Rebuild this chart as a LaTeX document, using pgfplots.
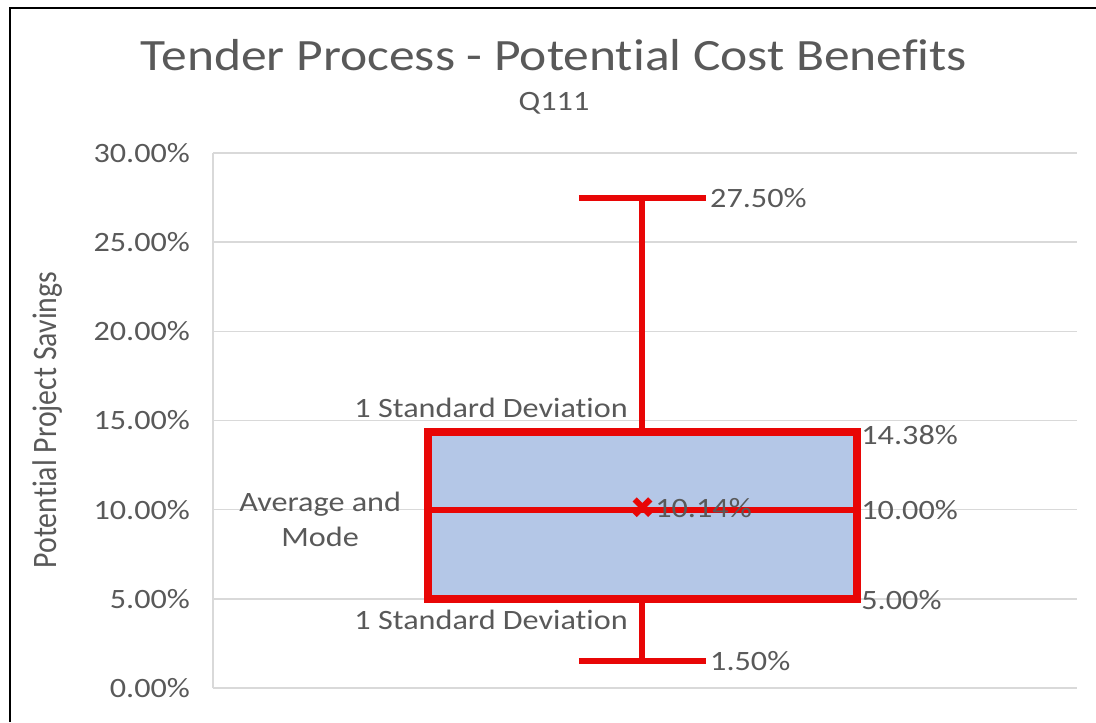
\documentclass[border=0pt]{standalone}
\usepackage{fontspec}
\usepackage{graphicx}
\usepackage{pgfplots}
\pgfplotsset{compat=1.18}
\usepgfplotslibrary{statistics}
\setmainfont{Carlito}[FakeStretch=1.15, RawFeature=-liga]
\newfontfamily\plainfont{Carlito}[RawFeature=-liga]

\definecolor{txtgray}{HTML}{595959}
\definecolor{gridgray}{HTML}{D9D9D9}
\definecolor{boxred}{RGB}{232,6,6}
\definecolor{boxfill}{HTML}{B4C7E7}

\begin{document}
\begin{tikzpicture}[font=\fontsize{14}{17.5}\selectfont, text=txtgray]
\path[use as bounding box] (0,0) rectangle (548pt,361pt);
\draw[black, line width=1pt] (5pt,0) -- (5pt,357pt) -- (548pt,357pt);

\node[font=\fontsize{22.4}{27}\selectfont] at (277pt,333.5pt) {Tender Process - Potential Cost Benefits};
\node at (277pt,309.5pt) {Q111};
\node[rotate=90] at (24pt,151pt) {\scalebox{1}[1.15]{\fontsize{14.9}{18}\selectfont\plainfont Potential Project Savings}};

\begin{axis}[
    at={(106.5pt,17pt)}, anchor=south west,
    scale only axis,
    width=432pt, height=267.5pt,
    xmin=0, xmax=2,
    ymin=0, ymax=30,
    xtick=\empty,
    ytick={0,5,10,15,20,25,30},
    ymajorgrids,
    major grid style={draw=gridgray, line width=0.75pt},
    axis x line*=bottom, axis y line*=left,
    axis line style={draw=gridgray, line width=0.75pt, -},
    major tick length=0pt,
    /pgf/number format/assume math mode=true,
    yticklabel={\pgfmathprintnumber[fixed,fixed zerofill,precision=2]{\tick}\%},
    yticklabel style={text=txtgray, xshift=-8pt},
    clip=false,
]
\addplot+[
    boxplot/draw direction=y,
    boxplot prepared={
        draw position=0.994,
        lower whisker=1.5,
        lower quartile=5,
        median=10,
        upper quartile=14.38,
        upper whisker=27.5,
        box extend=0.993,
        whisker extend=0.294,
        every box/.style={draw=boxred, fill=boxfill, line width=4pt},
        every whisker/.style={draw=boxred, line width=3pt},
        every median/.style={draw=boxred, line width=3pt},
    },
    draw=boxred, mark=none,
] coordinates {};
\addplot[only marks, mark=x, mark size=5.5pt, boxred, line width=3pt]
    coordinates {(0.994,10.14)};

\node[anchor=west, inner sep=0pt] at (axis cs:1.15,27.5) {27.50\%};
\node[anchor=west, inner sep=0pt] at (axis cs:1.5,14.2) {14.38\%};
\node[anchor=west, inner sep=0pt] at (axis cs:1.5,10.0) {10.00\%};
\node[anchor=west, inner sep=0pt] at (axis cs:1.5,4.95) {5.00\%};
\node[anchor=west, inner sep=0pt] at (axis cs:1.15,1.5) {1.50\%};
\node[anchor=west, inner sep=0pt] at (axis cs:1.023,10.1) {10.14\%};
\node[anchor=east, inner sep=0pt] at (axis cs:0.961,15.7) {1 Standard Deviation};
\node[anchor=east, inner sep=0pt] at (axis cs:0.961,3.8) {1 Standard Deviation};
\node[align=center, inner sep=0pt] at (axis cs:0.248,9.48) {Average and\\Mode};
\end{axis}
\end{tikzpicture}
\end{document}
